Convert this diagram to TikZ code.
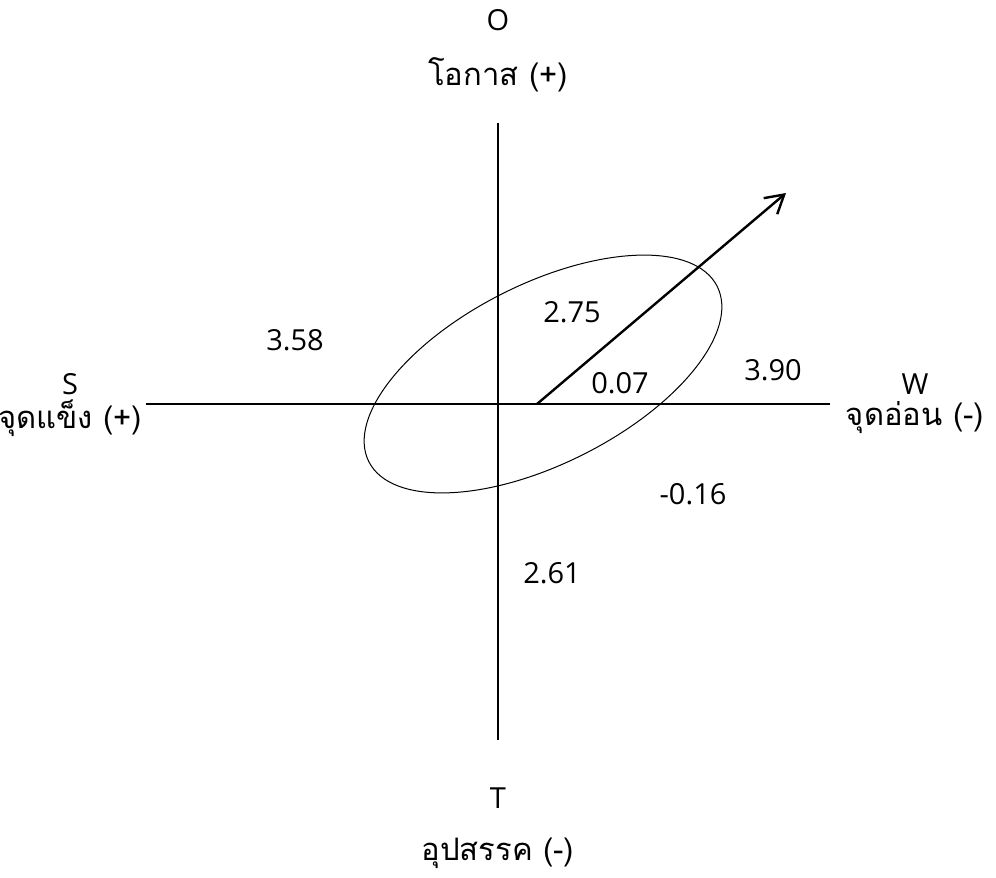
\documentclass[tikz,border=0pt]{standalone}
\usepackage{fontspec}
\setmainfont{Open Sans}
\newfontfamily\thaifont[Script=Thai]{Loma}
\usetikzlibrary{arrows.meta}
\begin{document}
\begin{tikzpicture}[x=0.5pt,y=-0.5pt,font=\fontsize{14.5}{17}\selectfont,
  axis/.style={line width=0.85pt},
  num/.style={inner sep=0pt},
  thlbl/.style={inner sep=0pt,font=\thaifont\fontsize{15.5}{18}\selectfont}]
\useasboundingbox (0,0) rectangle (996,878);
\coordinate (west) at (146,404);
\coordinate (east) at (830,404);
\coordinate (top) at (498,123);
\coordinate (bottom) at (498,740);
\coordinate (start) at (537,404);
\coordinate (tip) at (786,193);
\draw[axis] (west) -- (east);
\draw[axis] (top) -- (bottom);
\draw[line width=0.5pt,rotate around={26.7:(543,374)}] (543,374) ellipse [x radius=195,y radius=90];
\draw[line width=1.2pt,-{Straight Barb[length=9pt,width=10.5pt,line width=1.2pt]}] (start) -- (tip);
\node[num] (o) at (498,20) {O};
\node[thlbl] (opp) at (498,75) {โอกาส (+)};
\node[num] (s) at (70,384) {S};
\node[thlbl] (str) at (70,418) {จุดแข็ง (+)};
\node[num] (w) at (915,384) {W};
\node[thlbl] (weak) at (915,418) {จุดอ่อน (-)};
\node[num] (t) at (498,798) {T};
\node[thlbl] (thr) at (498,853) {อุปสรรค (-)};
\node[num] (vs) at (295,340) {3.58};
\node[num] (vo) at (572,312) {2.75};
\node[num] (vx) at (620,383) {0.07};
\node[num] (vw) at (773,370) {3.90};
\node[num] (vy) at (693,494) {-0.16};
\node[num] (vt) at (552,573) {2.61};
\end{tikzpicture}
\end{document}
